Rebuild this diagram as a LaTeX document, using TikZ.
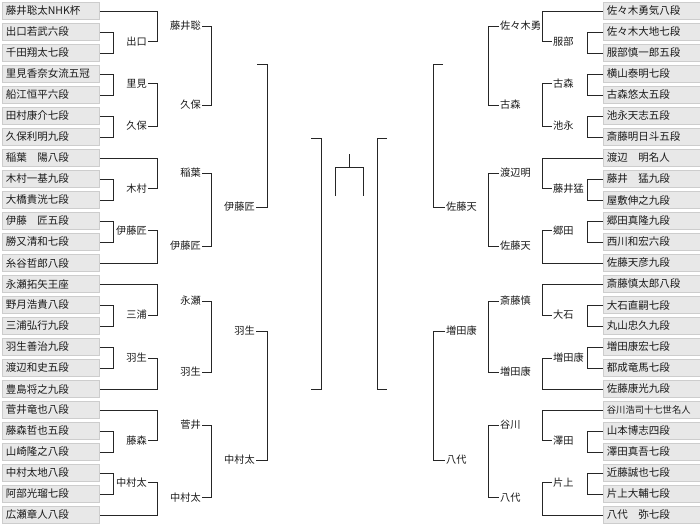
\documentclass[tikz,border=0pt]{standalone}
\usepackage{fontspec}
\setmainfont{Noto Sans CJK JP}
\definecolor{boxfill}{HTML}{E8E8E8}
\definecolor{boxline}{HTML}{CDCDCD}
\definecolor{ink}{HTML}{1A1A1A}
\newcommand\mtch[3]{\draw[br] (#1) -- (#1 -| #3) -- (#2 -| #3) -- (#2);}
\begin{document}
\begin{tikzpicture}[x=1pt,y=-1pt,
  namebox/.style={draw=boxline, fill=boxfill, line width=0.8pt, anchor=west,
    text width=90pt, inner xsep=3.5pt, inner ysep=0pt, minimum height=17pt,
    align=left, text=ink, font=\fontsize{10.5}{12}\selectfont},
  lbl/.style={inner sep=1pt, text=ink, font=\fontsize{10.2}{12}\selectfont},
  lbll/.style={lbl, anchor=east},
  lblr/.style={lbl, anchor=west},
  br/.style={draw=black!85, line width=0.9pt}]
\useasboundingbox (0,0) rectangle (700,525);
% column coordinates
\coordinate (xl1) at (113,0); \coordinate (xl2) at (157,0); \coordinate (xl3) at (211,0);
\coordinate (xl4) at (267,0); \coordinate (xl5) at (321,0);
\coordinate (xr1) at (587,0); \coordinate (xr2) at (542,0); \coordinate (xr3) at (488,0);
\coordinate (xr4) at (433,0); \coordinate (xr5) at (377,0);
% left boxes
\foreach \i/\t in {1/藤井聡太NHK杯,2/出口若武六段,3/千田翔太七段,4/里見香奈女流五冠,5/船江恒平六段,
  6/田村康介七段,7/久保利明九段,8/稲葉　陽八段,9/木村一基九段,10/大橋貴洸七段,11/伊藤　匠五段,
  12/勝又清和七段,13/糸谷哲郎八段,14/永瀬拓矢王座,15/野月浩貴八段,16/三浦弘行九段,17/羽生善治九段,
  18/渡辺和史五段,19/豊島将之九段,20/菅井竜也八段,21/藤森哲也五段,22/山崎隆之八段,23/中村太地八段,
  24/阿部光瑠七段,25/広瀬章人八段}
  \node[namebox] (L\i) at (2,{11+21*(\i-1)}) {\t};
% right boxes
\foreach \i/\t in {1/佐々木勇気八段,2/佐々木大地七段,3/服部慎一郎五段,4/横山泰明七段,5/古森悠太五段,
  6/池永天志五段,7/斎藤明日斗五段,8/渡辺　明名人,9/藤井　猛九段,10/屋敷伸之九段,11/郷田真隆九段,
  12/西川和宏六段,13/佐藤天彦九段,14/斎藤慎太郎八段,15/大石直嗣七段,16/丸山忠久九段,17/増田康宏七段,
  18/都成竜馬七段,19/佐藤康光九段,20/{\fontsize{9.3}{12}\selectfont 谷川浩司十七世名人},21/山本博志四段,22/澤田真吾七段,23/近藤誠也七段,
  24/片上大輔七段,25/八代　弥七段}
  \node[namebox] (R\i) at (603,{11+21*(\i-1)}) {\t};
% round 1 labels
\foreach \n/\y/\tl/\tr in {23/41.5/出口/服部,45/83.5/里見/古森,67/126/久保/池永,910/188.5/木村/藤井猛,
  1112/230.5/伊藤匠/郷田,1516/315/三浦/大石,1718/358/羽生/増田康,2122/440.5/藤森/澤田,2324/482.5/中村太/片上}{
  \node[lbll] (LA\n) at (148,\y) {\tl};
  \node[lblr] (RA\n) at (552,\y) {\tr};
}
% round 2 labels
\foreach \n/\y/\tl/\tr in {1/26/藤井聡/佐々木勇,2/105/久保/古森,3/173/稲葉/渡辺明,4/246/伊藤匠/佐藤天,
  5/301/永瀬/斎藤慎,6/372/羽生/増田康,7/425/菅井/谷川,8/497.5/中村太/八代}{
  \node[lbll] (LB\n) at (202,\y) {\tl};
  \node[lblr] (RB\n) at (499,\y) {\tr};
}
% round 3 labels
\coordinate (LC1) at (257,64); \coordinate (RC1) at (443,64);
\foreach \n/\y/\tl/\tr in {2/207/伊藤匠/佐藤天,3/331/羽生/増田康,4/460/中村太/八代}{
  \node[lbll] (LC\n) at (256,\y) {\tl};
  \node[lblr] (RC\n) at (445,\y) {\tr};
}
% round 4 (undecided)
\coordinate (LD1) at (311,138); \coordinate (LD2) at (311,389);
\coordinate (RD1) at (387,138); \coordinate (RD2) at (387,389);
% round 1 brackets
\foreach \a/\b in {2/3,4/5,6/7,9/10,11/12,15/16,17/18,21/22,23/24}{
  \mtch{L\a.east}{L\b.east}{xl1}
  \mtch{R\a.west}{R\b.west}{xr1}
}
% round 2
\mtch{L1.east}{LA23.east}{xl2}   \mtch{R1.west}{RA23.west}{xr2}
\mtch{LA45.east}{LA67.east}{xl2} \mtch{RA45.west}{RA67.west}{xr2}
\mtch{L8.east}{LA910.east}{xl2}  \mtch{R8.west}{RA910.west}{xr2}
\mtch{LA1112.east}{L13.east}{xl2} \mtch{RA1112.west}{R13.west}{xr2}
\mtch{L14.east}{LA1516.east}{xl2} \mtch{R14.west}{RA1516.west}{xr2}
\mtch{LA1718.east}{L19.east}{xl2} \mtch{RA1718.west}{R19.west}{xr2}
\mtch{L20.east}{LA2122.east}{xl2} \mtch{R20.west}{RA2122.west}{xr2}
\mtch{LA2324.east}{L25.east}{xl2} \mtch{RA2324.west}{R25.west}{xr2}
% round 3
\mtch{LB1.east}{LB2.east}{xl3} \mtch{RB1.west}{RB2.west}{xr3}
\mtch{LB3.east}{LB4.east}{xl3} \mtch{RB3.west}{RB4.west}{xr3}
\mtch{LB5.east}{LB6.east}{xl3} \mtch{RB5.west}{RB6.west}{xr3}
\mtch{LB7.east}{LB8.east}{xl3} \mtch{RB7.west}{RB8.west}{xr3}
% round 4
\mtch{LC1}{LC2.east}{xl4} \mtch{RC1}{RC2.west}{xr4}
\mtch{LC3.east}{LC4.east}{xl4} \mtch{RC3.west}{RC4.west}{xr4}
% semi-final
\mtch{LD1}{LD2}{xl5} \mtch{RD1}{RD2}{xr5}
% final
\coordinate (t0) at (349,154); \coordinate (t1) at (349,167);
\coordinate (ta) at (335,167); \coordinate (tb) at (363,167);
\coordinate (tc) at (335,196); \coordinate (td) at (363,196);
\draw[br] (t0) -- (t1);
\draw[br] (tc) -- (ta) -- (tb) -- (td);
\end{tikzpicture}
\end{document}
